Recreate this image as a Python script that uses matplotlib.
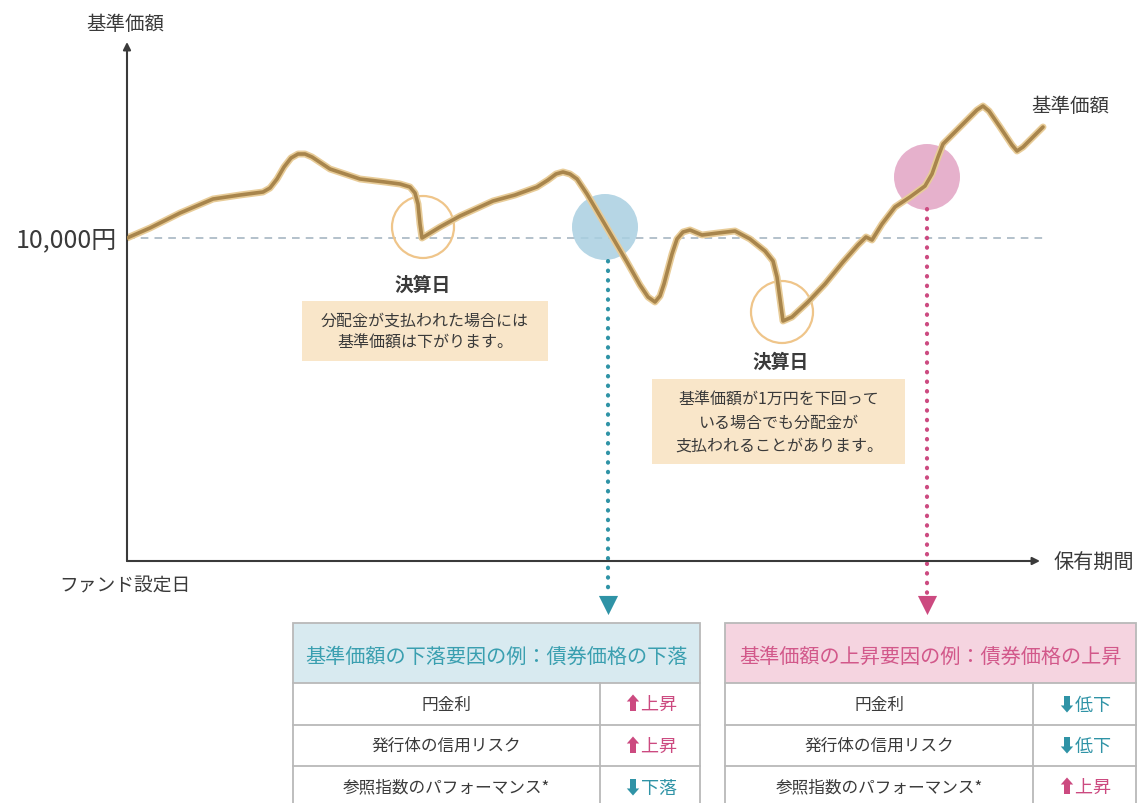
import matplotlib
matplotlib.use("Agg")
import matplotlib.pyplot as plt
from matplotlib.patches import Ellipse, Rectangle

plt.rcParams['font.family'] = ['Noto Sans CJK JP', 'DejaVu Sans']

# 基準価額の推移（横: 経過期間, 縦: 円）
t = [0, 23, 53, 86, 113, 136, 143, 150, 157, 164, 171, 178, 185, 203, 233, 258,
     273, 283, 288, 291, 293, 295, 313, 333, 366, 388, 410, 421, 429, 436, 443,
     450, 460, 473, 500, 513, 521, 528, 533, 537, 545, 550, 556, 563, 575, 591,
     608, 623, 638, 646, 650, 653, 656, 665, 681, 698, 716, 731, 739, 745, 755,
     768, 783, 798, 805, 811, 816, 828, 841, 850, 856, 862, 873, 885, 890, 896,
     903, 916]
nav = [10000, 10100, 10250, 10390, 10430, 10460, 10500, 10590, 10710, 10800,
       10840, 10840, 10810, 10690, 10590, 10560, 10540, 10510, 10450, 10340,
       10140, 10000, 10110, 10220, 10370, 10430, 10510, 10580, 10640, 10660,
       10640, 10590, 10440, 10220, 9760, 9530, 9410, 9360, 9420, 9540, 9840,
       9990, 10060, 10080, 10030, 10050, 10070, 9990, 9870, 9770, 9610, 9390,
       9170, 9210, 9360, 9540, 9760, 9930, 10010, 9980, 10140, 10310, 10410,
       10520, 10640, 10810, 10940, 11060, 11190, 11280, 11320, 11270, 11110,
       10930, 10870, 10910, 10980, 11110]

base_nav = 10000
settle_t = [296, 655]
settle_nav = [10110, 9260]
fall_t, fall_nav = 478, 10110
rise_t, rise_nav = 800, 10610

factors = ['円金利', '発行体の信用リスク', '参照指数のパフォーマンス*']
fall_moves = ['上昇', '上昇', '下落']
rise_moves = ['低下', '低下', '上昇']
up_words = ['上昇']

PINK = '#cc4a80'
TEAL = '#2f93a6'
TXT = '#3a3a3a'

fig = plt.figure(figsize=(11.41, 8.04), dpi=100)
W, H = 1141, 804

# チャート部分
ax = fig.add_axes([127 / W, (H - 562) / H, 1014 / W, 522 / H])
ax.set_xlim(0, 1014)
ax.set_ylim(6770, 11990)
ax.axis('off')

ax.plot([0, 916], [base_nav, base_nav], color='#9fb0bd', lw=1.1,
        dashes=(5, 4), zorder=1)

ax.add_patch(Ellipse((fall_t, fall_nav), 66, 660, color='#a9cfe1', alpha=0.85,
                     lw=0, zorder=2))
ax.add_patch(Ellipse((rise_t, rise_nav), 66, 660, color='#e2a4c4', alpha=0.85,
                     lw=0, zorder=2))
for st, sv in zip(settle_t, settle_nav):
    ax.add_patch(Ellipse((st, sv), 62, 620, fill=False, ec='#efc58a', lw=1.6,
                         zorder=2))

ax.plot(t, nav, color='#e8cc98', lw=5, solid_capstyle='round',
        solid_joinstyle='round', zorder=3)
ax.plot(t, nav, color='#a8854c', lw=2.6, solid_capstyle='round',
        solid_joinstyle='round', zorder=4)

# 点線の矢印
ax.plot([481, 481], [9770, 6420], color=TEAL, lw=3, dashes=(0.1, 2.2),
        dash_capstyle='round', clip_on=False, zorder=2)
ax.scatter([481], [6330], marker='v', s=190, color=TEAL, lw=0, clip_on=False)
ax.plot([800, 800], [10290, 6420], color=PINK, lw=3, dashes=(0.1, 2.2),
        dash_capstyle='round', clip_on=False, zorder=2)
ax.scatter([800], [6330], marker='v', s=190, color=PINK, lw=0, clip_on=False)

# 軸
ax.annotate('', xy=(0, 11960), xytext=(0, 6770), annotation_clip=False,
            arrowprops=dict(arrowstyle='-|>', color='#3a3a3a', lw=1.5,
                            mutation_scale=11, shrinkA=0, shrinkB=0))
ax.annotate('', xy=(913, 6770), xytext=(0, 6770), annotation_clip=False,
            arrowprops=dict(arrowstyle='-|>', color='#3a3a3a', lw=1.5,
                            mutation_scale=11, shrinkA=0, shrinkB=0))

# 注記と表（ピクセル座標）
ov = fig.add_axes([0, 0, 1, 1])
ov.set_xlim(0, W)
ov.set_ylim(H, 0)
ov.axis('off')
ov.patch.set_alpha(0)

ov.text(125, 25, '基準価額', fontsize=14, color=TXT, ha='center', va='center')
ov.text(117, 240, '10,000円', fontsize=18, color=TXT, ha='right', va='center')
ov.text(1070, 106, '基準価額', fontsize=14, color=TXT, ha='center', va='center')
ov.text(125, 586, 'ファンド設定日', fontsize=13.5, color=TXT, ha='center', va='center')
ov.text(1094, 563, '保有期間', fontsize=14.5, color=TXT, ha='center', va='center')

ov.text(423, 285, '決算日', fontsize=13.5, color=TXT, ha='center', va='center',
        weight='bold')
ov.add_patch(Rectangle((302, 302), 246, 60, color='#f9e6c9', lw=0))
ov.text(425, 332, '分配金が支払われた場合には\n基準価額は下がります。', fontsize=11.5,
        color=TXT, ha='center', va='center', linespacing=1.45)

ov.text(781, 362, '決算日', fontsize=13.5, color=TXT, ha='center', va='center',
        weight='bold')
ov.add_patch(Rectangle((652, 380), 253, 85, color='#f9e6c9', lw=0))
ov.text(779, 423, '基準価額が1万円を下回って\nいる場合でも分配金が\n支払われることがあります。',
        fontsize=11.5, color=TXT, ha='center', va='center', linespacing=1.45)


def draw_table(x0, x1, xdiv, fill, tcolor, title, moves):
    top, hb, bottom = 624, 684, 812
    rows = [684, 726, 767, 809]
    ov.add_patch(Rectangle((x0, top), x1 - x0, hb - top, fc=fill, ec='#b9b9b9',
                           lw=1.3))
    ov.plot([x0, x0], [hb, bottom], color='#b9b9b9', lw=1.3)
    ov.plot([x1, x1], [hb, bottom], color='#b9b9b9', lw=1.3)
    ov.plot([xdiv, xdiv], [hb, bottom], color='#b9b9b9', lw=1.3)
    for r in rows[1:]:
        ov.plot([x0, x1], [r, r], color='#b9b9b9', lw=1.3)
    ov.text((x0 + x1) / 2, 657, title, fontsize=14.5, color=tcolor,
            ha='center', va='center')
    for i, (f, m) in enumerate(zip(factors, moves)):
        y = (rows[i] + rows[i + 1]) / 2
        ov.text((x0 + xdiv) / 2, y, f, fontsize=12, color=TXT, ha='center',
                va='center')
        c = PINK if m in up_words else TEAL
        arrow = '⬆' if m in up_words else '⬇'
        ov.text((xdiv + x1) / 2, y, arrow + m, fontsize=13, color=c,
                ha='center', va='center')


draw_table(293, 700, 600, '#d8eaf0', '#3a9fb0', '基準価額の下落要因の例：債券価格の下落',
           fall_moves)
draw_table(725, 1136, 1033, '#f5d4e0', '#d2588a', '基準価額の上昇要因の例：債券価格の上昇',
           rise_moves)

fig.savefig('out.png', dpi=100)
